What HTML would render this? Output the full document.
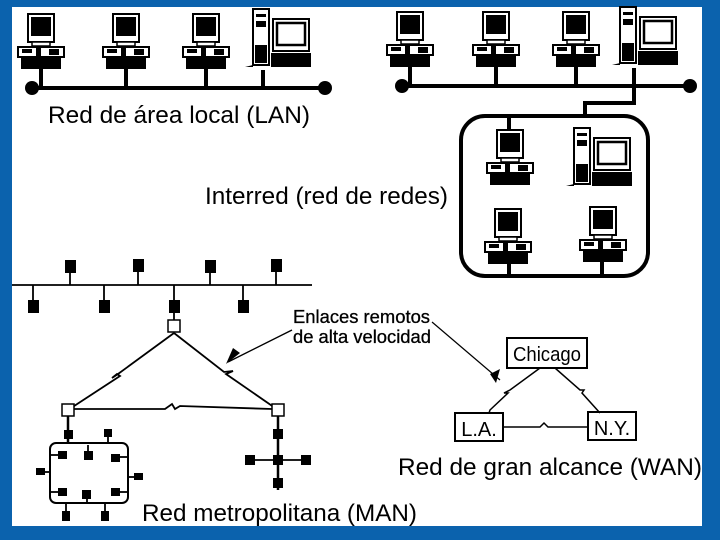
<!DOCTYPE html>
<html><head><meta charset="utf-8"><style>
html,body{margin:0;padding:0;background:#0b62ad;}
svg{display:block}
text{font-family:"Liberation Sans",sans-serif;fill:#000}
</style></head><body>
<svg width="720" height="540" viewBox="0 0 720 540" xmlns="http://www.w3.org/2000/svg">
<defs>
<g id="pc">
 <rect x="-13" y="0" width="26" height="28" fill="#fff" stroke="#000" stroke-width="2"/>
 <rect x="-10" y="3" width="20" height="19" fill="#000"/>
 <rect x="-9" y="28" width="18" height="4" fill="#fff" stroke="#000" stroke-width="1.5"/>
 <rect x="-23" y="33" width="46" height="10" fill="#fff" stroke="#000" stroke-width="2"/>
 <rect x="-19" y="35" width="10" height="4" fill="#000"/>
 <rect x="-5" y="34" width="5" height="8" fill="#000"/>
 <rect x="8" y="35" width="10" height="6" fill="#000"/>
 <rect x="-20" y="43" width="40" height="12" fill="#000"/>
</g>
<g id="tower">
 <rect x="-8" y="0" width="16" height="56" fill="#fff" stroke="#000" stroke-width="2"/>
 <rect x="-5" y="5" width="10" height="3" fill="#000"/>
 <rect x="-5" y="12" width="10" height="6" fill="#000"/>
 <rect x="-6" y="36" width="12" height="18" fill="#000"/>
 <path d="M-8,56 L-16,58 L-8,58Z" fill="#000"/>
 <rect x="12" y="10" width="36" height="32" fill="#fff" stroke="#000" stroke-width="2"/>
 <rect x="16" y="14" width="28" height="22" fill="#fff" stroke="#000" stroke-width="2.5"/>
 <rect x="10" y="44" width="40" height="14" fill="#000"/>
</g>
</defs>
<rect x="12" y="7" width="690" height="519" fill="#fff"/>

<!-- LAN left -->
<line x1="32" y1="88" x2="325" y2="88" stroke="#000" stroke-width="4"/>
<circle cx="32" cy="88" r="7"/><circle cx="325" cy="88" r="7"/>
<g stroke="#000" stroke-width="4"><line x1="41" y1="68" x2="41" y2="88"/><line x1="126" y1="68" x2="126" y2="88"/><line x1="206" y1="68" x2="206" y2="88"/><line x1="263" y1="70" x2="263" y2="88"/></g>
<use href="#pc" x="41" y="14"/><use href="#pc" x="126" y="14"/><use href="#pc" x="206" y="14"/>
<use href="#tower" x="261" y="9"/>
<text x="48" y="123" font-size="24" textLength="262" lengthAdjust="spacingAndGlyphs">Red de área local (LAN)</text>

<!-- LAN right -->
<line x1="402" y1="86" x2="690" y2="86" stroke="#000" stroke-width="4"/>
<circle cx="402" cy="86" r="7"/><circle cx="690" cy="86" r="7"/>
<g stroke="#000" stroke-width="4" fill="none"><line x1="410" y1="65" x2="410" y2="86"/><line x1="496" y1="65" x2="496" y2="86"/><line x1="576" y1="65" x2="576" y2="86"/>
<polyline points="634,68 634,103 585,103 585,118"/>
<rect x="461" y="116" width="187" height="160" rx="24"/>
<line x1="509" y1="118" x2="509" y2="132"/><line x1="509" y1="258" x2="509" y2="276"/><line x1="602" y1="258" x2="602" y2="276"/></g>
<use href="#pc" x="410" y="12"/><use href="#pc" x="496" y="12"/><use href="#pc" x="576" y="12"/>
<use href="#tower" x="628" y="7"/>
<use href="#pc" x="510" y="130"/><use href="#tower" x="582" y="128"/>
<use href="#pc" x="508" y="209"/><use href="#pc" x="603" y="207"/>
<text x="205" y="204" font-size="24" textLength="243" lengthAdjust="spacingAndGlyphs">Interred (red de redes)</text>

<!-- MAN -->
<g stroke="#000" stroke-width="1.8" fill="none">
<line x1="12" y1="285" x2="312" y2="285"/>
<line x1="70" y1="272" x2="70" y2="285"/><line x1="138" y1="272" x2="138" y2="285"/><line x1="210" y1="272" x2="210" y2="285"/><line x1="276" y1="272" x2="276" y2="285"/>
<line x1="33" y1="285" x2="33" y2="300"/><line x1="104" y1="285" x2="104" y2="300"/><line x1="174" y1="285" x2="174" y2="320"/><line x1="243" y1="285" x2="243" y2="300"/>
<polyline points="174,333 118,374 112,378 117,374 120,376 68,410"/>
<polyline points="174,333 224,372 233,371 226,374 278,410"/>
<polyline points="74,409 165,409 172,404 175,409 180,406 272,409"/>
<line x1="68" y1="416" x2="68" y2="443" stroke-width="2.5"/>
<line x1="278" y1="416" x2="278" y2="490" stroke-width="2.5"/>
<line x1="248" y1="460" x2="306" y2="460"/>
<rect x="50" y="443" width="78" height="60" rx="6" stroke-width="2"/>
<line x1="108" y1="432" x2="108" y2="443"/><line x1="38" y1="472" x2="50" y2="472"/><line x1="128" y1="477" x2="140" y2="477"/>
<line x1="66" y1="503" x2="66" y2="515"/><line x1="105" y1="503" x2="105" y2="515"/>
<line x1="50" y1="455" x2="62" y2="455"/><line x1="88" y1="445" x2="88" y2="453"/><line x1="115" y1="457" x2="128" y2="457"/>
<line x1="50" y1="492" x2="62" y2="492"/><line x1="87" y1="503" x2="87" y2="495"/><line x1="115" y1="492" x2="128" y2="492"/>
<line x1="228" y1="362" x2="292" y2="330" stroke-width="1.4"/>
</g>
<g fill="#000">
<rect x="65" y="260" width="11" height="13"/><rect x="133" y="259" width="11" height="13"/><rect x="205" y="260" width="11" height="13"/><rect x="271" y="259" width="11" height="13"/>
<rect x="28" y="300" width="11" height="13"/><rect x="99" y="300" width="11" height="13"/><rect x="169" y="300" width="11" height="13"/><rect x="238" y="300" width="11" height="13"/>
<rect x="64" y="430" width="9" height="9"/><rect x="104" y="429" width="8" height="8"/>
<rect x="58" y="451" width="9" height="8"/><rect x="84" y="451" width="9" height="9"/><rect x="111" y="454" width="9" height="8"/>
<rect x="36" y="468" width="9" height="7"/><rect x="134" y="473" width="9" height="7"/>
<rect x="58" y="488" width="9" height="8"/><rect x="82" y="490" width="9" height="9"/><rect x="111" y="488" width="9" height="8"/>
<rect x="62" y="511" width="8" height="10"/><rect x="101" y="511" width="8" height="10"/>
<rect x="273" y="429" width="10" height="10"/><rect x="273" y="455" width="10" height="10"/><rect x="245" y="455" width="10" height="10"/><rect x="301" y="455" width="10" height="10"/><rect x="273" y="478" width="10" height="10"/>
<path d="M226,364 L240,353 L233,348Z"/>
</g>
<g fill="#fff" stroke="#000" stroke-width="1.5">
<rect x="168" y="320" width="12" height="12"/><rect x="62" y="404" width="12" height="12"/><rect x="272" y="404" width="12" height="12"/>
</g>
<text x="293" y="323" font-size="18" textLength="137" lengthAdjust="spacingAndGlyphs" stroke="#000" stroke-width="0.3">Enlaces remotos</text>
<text x="293" y="343" font-size="18" textLength="138" lengthAdjust="spacingAndGlyphs" stroke="#000" stroke-width="0.3">de alta velocidad</text>
<text x="142" y="521" font-size="24" textLength="275" lengthAdjust="spacingAndGlyphs">Red metropolitana (MAN)</text>

<!-- WAN -->
<g stroke="#000" stroke-width="1.5" fill="none">
<line x1="432" y1="322" x2="500" y2="380" stroke-width="1.2"/>
<polyline points="540,368 510,390 504,393 508,393 490,410 489,413"/>
<polyline points="555,368 580,390 584,390 582,393 600,413"/>
<polyline points="503,427 540,427 544,423 548,427 588,427"/>
<rect x="507" y="338" width="80" height="30" stroke-width="2"/>
<rect x="455" y="413" width="48" height="28" stroke-width="2"/>
<rect x="588" y="412" width="48" height="28" stroke-width="2"/>
</g>
<path d="M496,383 L500,369 L490,374Z" fill="#000"/>
<text x="547" y="361" font-size="20" text-anchor="middle" textLength="68" lengthAdjust="spacingAndGlyphs">Chicago</text>
<text x="479" y="436" font-size="20" text-anchor="middle">L.A.</text>
<text x="612" y="435" font-size="20" text-anchor="middle">N.Y.</text>
<text x="398" y="475" font-size="24" textLength="304" lengthAdjust="spacingAndGlyphs">Red de gran alcance (WAN)</text>
</svg>
</body></html>
